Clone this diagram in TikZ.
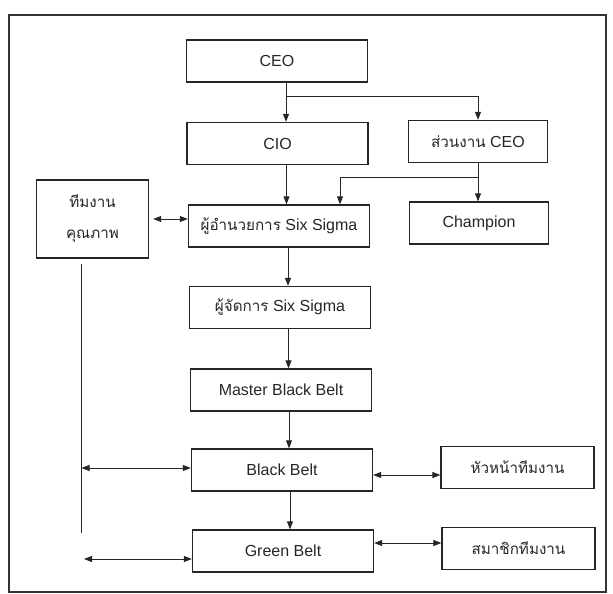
\documentclass[tikz,border=0pt]{standalone}
\usepackage{fontspec}
\setmainfont{Liberation Sans}
\newfontfamily\thaifont[Script=Thai,Scale=0.95]{Loma}
\usetikzlibrary{arrows.meta}
\tikzset{
  obox/.style={draw=black!85,line width=1.3pt,minimum width=181pt,minimum height=42pt,inner sep=2pt,align=center,text=black!85},
  sbox/.style={obox,minimum width=139pt},
  oarr/.style={-{Triangle[length=8pt,width=6pt]},line width=1pt,draw=black!85},
  obiarr/.style={{Triangle[length=8pt,width=6pt]}-{Triangle[length=8pt,width=6pt]},line width=1pt,draw=black!85},
  oline/.style={line width=1pt,draw=black!85}
}

\begin{document}
\begin{tikzpicture}[x=1pt,y=-1pt,font=\fontsize{16}{19}\selectfont]
  \useasboundingbox (0,0) rectangle (613,594);
  \draw[line width=1.2pt,draw=black!80] (9,15) rectangle (606,592);
  \node[obox] (ceo) at (277,61) {CEO};
  \node[obox] (cio) at (277.5,143.5) {CIO};
  \node[sbox] (sec) at (478,141.5) {{\thaifont ส่วนงาน} CEO};
  \node[obox,minimum width=112pt,minimum height=78pt] (qual) at (92.5,219) {{\thaifont ทีมงาน}\\[12pt]{\thaifont คุณภาพ}};
  \node[obox] (dir) at (279,226) {{\thaifont ผู้อำนวยการ} Six Sigma};
  \node[sbox] (champ) at (479,223) {Champion};
  \node[obox] (mgr) at (280,307.5) {{\thaifont ผู้จัดการ} Six Sigma};
  \node[obox] (mbb) at (281,390) {Master Black Belt};
  \node[obox] (bb) at (282,470) {Black Belt};
  \node[sbox,minimum width=153pt] (head) at (517.5,467.5) {\thaifont หัวหน้าทีมงาน};
  \node[obox] (gb) at (283,551) {Green Belt};
  \node[sbox,minimum width=153pt] (memb) at (518.5,548.5) {\thaifont สมาชิกทีมงาน};
  \coordinate (qend) at (81.5,533);
  \coordinate (gbfree) at (84,559);
  \draw[oarr] ([xshift=9pt]ceo.south) -- ([xshift=8.5pt]cio.north);
  \draw[oarr] ([xshift=9pt]ceo.south) ++(0,14) -| (sec.north);
  \draw[oarr] ([xshift=9pt]cio.south) -- ([xshift=7.5pt]dir.north);
  \draw[oarr] (sec.south) -- (sec.south |- champ.north);
  \draw[oarr] (sec.south) ++(0,14) -| ([xshift=61pt]dir.north);
  \draw[obiarr] ([xshift=4pt]qual.east) -- (qual.east -| dir.west);
  \draw[oarr] ([xshift=9pt]dir.south) -- ([xshift=8pt]mgr.north);
  \draw[oarr] ([xshift=8.5pt]mgr.south) -- ([xshift=7.5pt]mbb.north);
  \draw[oarr] ([xshift=8pt]mbb.south) -- ([xshift=7pt]bb.north);
  \draw[oarr] ([xshift=8pt]bb.south) -- ([xshift=7pt]gb.north);
  \draw[oline] ([xshift=-11pt,yshift=-5pt]qual.south) -- (qend);
  \draw[obiarr] ([yshift=2pt]bb.west -| qend) -- ([yshift=2pt]bb.west);
  \draw[obiarr] (gbfree) -- (gbfree -| gb.west);
  \draw[obiarr] ([yshift=-5pt]bb.east) -- ([yshift=-5pt]bb.east -| head.west);
  \draw[obiarr] ([yshift=8pt]gb.east) -- ([yshift=8pt]gb.east -| memb.west);
\end{tikzpicture}
\end{document}
